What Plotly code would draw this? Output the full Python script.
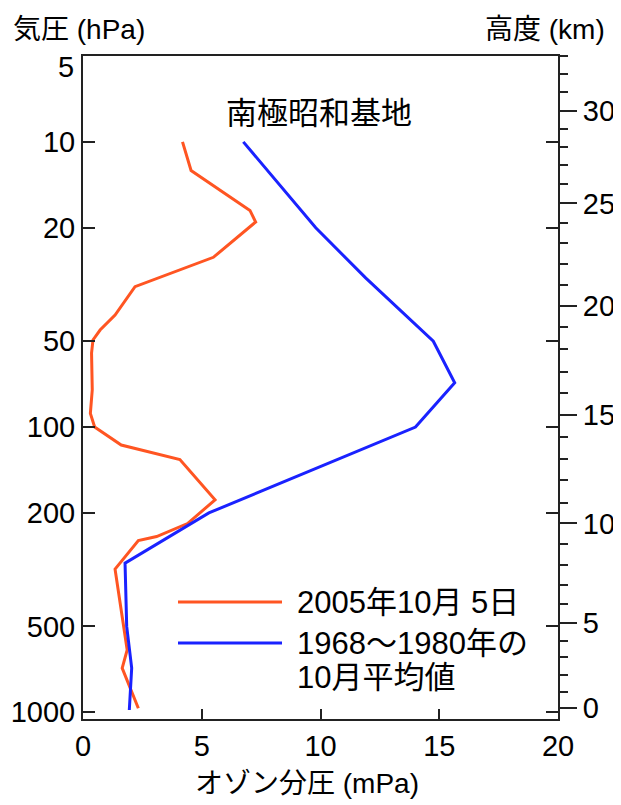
import math
import plotly.graph_objects as go

# ---- data ----
pressure_2005 = [10, 12.6, 17.4, 19.1, 25.4, 32.2, 40.5, 45.7, 49.5, 55, 74, 89.6, 100,
                 115.6, 130, 180, 218, 242, 250, 315, 605, 700, 968]
ozone_2005 = [4.19, 4.55, 7.03, 7.27, 5.49, 2.19, 1.35, 0.72, 0.42, 0.36, 0.39, 0.31, 0.49,
              1.61, 4.08, 5.56, 4.4, 3.1, 2.33, 1.35, 1.86, 1.65, 2.33]

pressure_mean = [10, 20, 30, 50, 70, 100, 200, 300, 500, 700, 982]
ozone_mean = [6.75, 9.8, 11.9, 14.75, 15.65, 14.0, 5.3, 1.77, 1.84, 2.05, 1.95]

pressure_ticks = [5, 10, 20, 50, 100, 200, 500, 1000]
ozone_ticks = [0, 5, 10, 15, 20]

# right axis: altitude (km) and the pressure level at which it sits
height_km = list(range(0, 34))
height_pressure = [968.3, 846.9, 739.9, 641.6, 561.0, 485.3, 417.3, 357.9, 304.5, 257.1,
                   217.6, 184.2, 153.4, 129.8, 108.7, 90.8, 76.2, 64.01, 53.43, 44.73,
                   37.66, 31.71, 26.84, 22.71, 19.32, 16.44, 14.07, 12.10, 10.41, 9.00,
                   7.78, 6.70, 5.79, 5.01]

label_2005 = "2005年10月 5日"
label_mean = "1968～1980年の<br>10月平均値"
station = "南極昭和基地"

ORANGE = "#FF5522"
BLUE = "#1A22FF"
FONT = "Liberation Sans, Arial, Noto Sans CJK JP, sans-serif"
FS = 29
FS_TITLE = 28
FS_TXT = 31

# page geometry (pixels); the page body adds an 8px offset
OFF = 8
W, H = 621 - OFF, 805 - OFF
L, R, T, B = 83 - OFF, 558 - OFF, 56 - OFF, 719 - OFF
pw, ph = R - L, B - T


def px(xpage):
    return (xpage - OFF - L) / pw


def py(ypage):
    return (B - (ypage - OFF)) / ph


yrange = [math.log10(1056), math.log10(5)]

fig = go.Figure()
fig.add_trace(go.Scatter(x=ozone_2005, y=pressure_2005, mode="lines",
                         line=dict(color=ORANGE, width=3), name=label_2005,
                         showlegend=False))
fig.add_trace(go.Scatter(x=ozone_mean, y=pressure_mean, mode="lines",
                         line=dict(color=BLUE, width=3), name=label_mean,
                         showlegend=False))
# invisible trace to anchor the altitude axis
fig.add_trace(go.Scatter(x=[None], y=[None], yaxis="y2", showlegend=False,
                         hoverinfo="skip"))

major_h = [h for h in height_km if h % 5 == 0]
minor_h = [h for h in height_km if h % 5 != 0]

# the top label (5 hPa) sits just below the frame corner in the reference,
# so it is drawn as a separate text below
left_ticktext = ["" if p == pressure_ticks[0] else str(p) for p in pressure_ticks]

fig.update_layout(
    width=W, height=H,
    margin=dict(l=L, r=W - R, t=T, b=H - B, autoexpand=False),
    paper_bgcolor="white", plot_bgcolor="white",
    font=dict(family=FONT, size=FS, color="black"),
    xaxis=dict(range=[0, 20], tickvals=ozone_ticks, ticks="inside", ticklen=10,
               tickwidth=2, tickcolor="#222", showline=True, linewidth=2,
               linecolor="#222", mirror=True, showgrid=False, zeroline=False,
               tickfont=dict(size=FS), automargin=False),
    yaxis=dict(type="log", range=yrange, tickvals=pressure_ticks,
               ticktext=left_ticktext, ticks="inside",
               ticklen=12, tickwidth=2, tickcolor="#222", showline=True,
               linewidth=2, linecolor="#222", mirror="ticks", showgrid=False,
               zeroline=False, tickfont=dict(size=FS), automargin=False),
    yaxis2=dict(type="log", range=yrange, overlaying="y", side="right",
                tickvals=[height_pressure[h] for h in major_h],
                ticktext=[str(h) for h in major_h], ticks="outside", ticklen=17,
                tickwidth=2, tickcolor="#222", showline=True, linewidth=2,
                linecolor="#222", showgrid=False, zeroline=False,
                tickfont=dict(size=FS), automargin=False,
                minor=dict(tickvals=[height_pressure[h] for h in minor_h],
                           ticks="outside", ticklen=8, tickwidth=2,
                           tickcolor="#222", showgrid=False)),
)

mean_lines = label_mean.split("<br>")
ann = [
    dict(text="気圧 (hPa)", x=px(11), y=py(30), xanchor="left", yanchor="middle",
         size=FS_TITLE),
    dict(text="高度 (km)", x=px(607), y=py(30), xanchor="right", yanchor="middle",
         size=FS_TITLE),
    dict(text=str(pressure_ticks[0]), x=px(76), y=py(67), xanchor="right",
         yanchor="middle", size=FS),
    dict(text=station, x=px(319), y=py(113), xanchor="center", yanchor="middle",
         size=FS_TXT),
    dict(text="オゾン分圧 (mPa)", x=px(307), y=py(783), xanchor="center",
         yanchor="middle", size=FS_TITLE),
    dict(text=label_2005, x=px(295), y=py(602), xanchor="left", yanchor="middle",
         size=FS_TXT),
    dict(text=mean_lines[0], x=px(295), y=py(643), xanchor="left", yanchor="middle",
         size=FS_TXT),
    dict(text=mean_lines[1], x=px(295), y=py(677), xanchor="left", yanchor="middle",
         size=FS_TXT),
]
for a in ann:
    s = a.pop("size")
    a.update(xref="paper", yref="paper", showarrow=False,
             font=dict(family=FONT, size=s, color="black"))
    fig.add_annotation(**a)

for ypage, col in [(602, ORANGE), (643, BLUE)]:
    fig.add_shape(type="line", xref="paper", yref="paper", x0=px(178), x1=px(282),
                  y0=py(ypage), y1=py(ypage), line=dict(color=col, width=3))

fig.write_html("out.html")
